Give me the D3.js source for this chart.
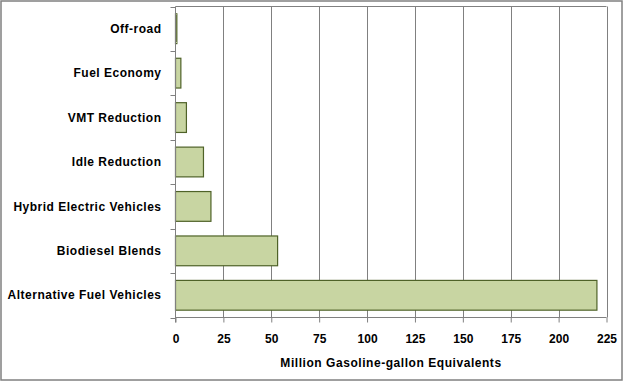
<!DOCTYPE html>
<html><head><meta charset="utf-8">
<script src="https://cdn.jsdelivr.net/npm/d3@7"></script>
<style>body{margin:0;background:#fff}svg{display:block}</style>
</head><body>
<script>
const categories = ["Off-road","Fuel Economy","VMT Reduction","Idle Reduction","Hybrid Electric Vehicles","Biodiesel Blends","Alternative Fuel Vehicles"];
const values = [0.7, 2.8, 5.7, 14.6, 18.5, 53.3, 220];
const xTicks = [0,25,50,75,100,125,150,175,200,225];
const xTitle = "Million Gasoline-gallon Equivalents";

const W = 623, H = 381;
const m = {left:175.5, right:606.5, top:6.5, bottom:317.5};
const svg = d3.select("body").append("svg").attr("width",W).attr("height",H);
svg.append("rect").attr("x",1).attr("y",1).attr("width",W-2).attr("height",H-2)
  .attr("fill","#fff").attr("stroke","#808080").attr("stroke-width",1.5);

const x = d3.scaleLinear().domain([0,225]).range([m.left,m.right]);
const y = d3.scaleBand().domain(categories).range([m.top,m.bottom]).paddingInner(0.33).paddingOuter(0.165);
const yb = d3.scaleBand().domain(categories).range([m.top,m.bottom]);

// gridlines
svg.append("g").selectAll("line").data(xTicks.slice(1)).join("line")
  .attr("x1",d=>Math.round(x(d))+0.5).attr("x2",d=>Math.round(x(d))+0.5)
  .attr("y1",m.top).attr("y2",m.bottom).attr("stroke","#808080").attr("stroke-width",1);
svg.append("line").attr("x1",m.left).attr("x2",m.right).attr("y1",m.top).attr("y2",m.top).attr("stroke","#808080");

// bars
svg.append("g").selectAll("rect").data(categories).join("rect")
  .attr("x",x(0)).attr("y",d=>y(d))
  .attr("width",(d,i)=>x(values[i])-x(0)).attr("height",y.bandwidth())
  .attr("fill","#c8d5a2").attr("stroke","#4f6228").attr("stroke-width",1.2);

const font = "'Liberation Sans', Arial, sans-serif";
// x axis
const xa = svg.append("g").attr("transform",`translate(0,${m.bottom})`)
  .call(d3.axisBottom(x).tickValues(xTicks).tickSize(5).tickPadding(12));
xa.select(".domain").attr("stroke","#808080").attr("d",`M${m.left},0H${m.right}`);
xa.selectAll(".tick line").attr("stroke","#808080");
xa.selectAll(".tick text").attr("font-family",font).attr("font-size",12).attr("font-weight","bold").attr("fill","#000");

// y axis with category boundary ticks
svg.append("line").attr("x1",m.left).attr("x2",m.left).attr("y1",m.top).attr("y2",m.bottom+5).attr("stroke","#808080");
const bounds = categories.map(c=>yb(c)).concat([m.bottom]);
svg.append("g").selectAll("line").data(bounds).join("line")
  .attr("x1",m.left-5).attr("x2",m.left).attr("y1",d=>Math.round(d)+0.5).attr("y2",d=>Math.round(d)+0.5).attr("stroke","#808080");
svg.append("g").selectAll("text").data(categories).join("text")
  .attr("x",161.5).attr("y",d=>yb(d)+yb.bandwidth()/2).attr("dy","0.35em")
  .attr("text-anchor","end").attr("font-family",font).attr("font-size",12).attr("font-weight","bold")
  .attr("letter-spacing","0.5px")
  .text(d=>d);

svg.append("text").attr("x",(m.left+m.right)/2).attr("y",367).attr("text-anchor","middle")
  .attr("font-family",font).attr("font-size",12).attr("font-weight","bold")
  .attr("letter-spacing","0.55px").text(xTitle);
</script>
</body></html>
